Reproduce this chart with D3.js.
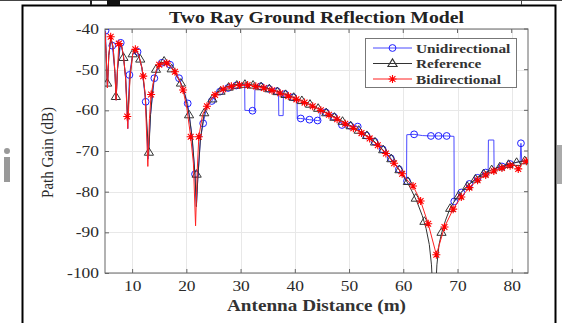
<!DOCTYPE html>
<html>
<head>
<meta charset="utf-8">
<script src="https://cdn.jsdelivr.net/npm/d3@7/dist/d3.min.js"></script>
<style>
  body { margin: 0; background: #fff; }
  svg { display: block; }
</style>
</head>
<body>
<script>
// ---- data ----
const xTicks = [10, 20, 30, 40, 50, 60, 70, 80];
const yTicks = [-100, -90, -80, -70, -60, -50, -40];
const seriesNames = ['Unidirectional', 'Reference', 'Bidirectional'];

// Reference: dense line + triangle markers
const refLine = [[5.0,-40.6],[5.2,-46],[5.45,-54.5],[5.7,-46.5],[6.1,-42.2],[6.5,-44.5],[6.85,-51],[7.05,-57.5],[7.3,-50],[7.7,-44.5],[8.0,-43.6],[8.4,-46.8],[8.8,-52],[9.2,-62],[9.6,-52],[10.1,-46.2],[10.6,-45],[11.2,-46.3],[11.8,-49.5],[12.4,-56],[13.05,-71],[13.4,-61],[13.9,-53.5],[14.5,-50],[15.2,-48.5],[16.0,-48],[16.8,-48.8],[17.5,-50],[18.2,-51.5],[19.0,-53.4],[19.8,-56.5],[20.5,-61],[21.1,-67],[21.6,-76],[21.85,-83.7],[22.1,-77],[22.6,-67],[23.3,-60.7],[24.0,-58.4],[24.8,-56.9],[25.7,-55.6],[26.5,-54.8],[27.5,-54.2],[28.5,-53.8],[29.5,-53.6],[30.5,-53.5],[31.5,-53.6],[32.5,-53.8],[33.5,-54.1],[34.5,-54.4],[35.5,-54.8],[36.5,-55.2],[37.5,-55.7],[38.5,-56.2],[39.5,-56.7],[40.5,-57.2],[41.5,-57.8],[42.5,-58.4],[43.5,-59],[44.5,-59.7],[45.5,-60.4],[46.5,-61.1],[47.5,-61.8],[48.5,-62.5],[49.5,-63.2],[50.5,-64],[51.5,-64.8],[52.5,-65.6],[53.5,-66.5],[54.5,-67.5],[55.5,-68.7],[56.5,-70.1],[57.5,-71.6],[58.5,-73.3],[59.5,-75.1],[60.5,-77.1],[61.5,-79.6],[62.5,-82.4],[63.5,-85.9],[64.2,-89],[64.8,-93],[65.2,-98],[65.5,-106],[65.9,-106],[66.2,-98],[66.6,-93],[67.1,-90],[67.8,-87],[68.6,-84.2],[69.5,-82.2],[70.5,-80.4],[71.5,-79],[72.5,-77.8],[73.5,-76.7],[74.5,-75.8],[75.5,-75.1],[76.5,-74.5],[77.5,-74],[78.5,-73.6],[79.5,-73.2],[80.5,-72.9],[81.5,-72.6],[82.5,-72.4],[83,-72.3]];
const refMarks = [[5.4,-53.3],[7.0,-56.6],[8.4,-47],[10.1,-46.1],[11.5,-47.4],[13.1,-70.3],[14.4,-49.9],[15.9,-47.9],[17.3,-49.8],[19.0,-53.3],[20.5,-61.1],[21.9,-75.7],[23.3,-60.6],[24.8,-57.2],[26.3,-55.3],[27.8,-54.3],[29.3,-53.8],[30.8,-53.6],[32.3,-53.8],[33.8,-54.2],[35.3,-54.7],[36.8,-55.4],[38.3,-56.1],[39.8,-56.8],[41.3,-57.6],[42.8,-58.5],[44.3,-59.5],[45.8,-60.6],[47.3,-61.7],[48.8,-62.7],[50.3,-63.8],[51.8,-64.9],[53.3,-66.2],[54.8,-67.8],[56.3,-69.7],[57.8,-71.9],[59.3,-74.6],[60.85,-77.5],[62.3,-81.6],[63.9,-87.3],[67.05,-90],[68.65,-84.1],[70.2,-81],[71.8,-78.7],[73.3,-76.9],[74.8,-75.6],[76.3,-74.6],[77.8,-73.9],[79.4,-73.3],[80.9,-72.8],[82.4,-72.4]];

// Bidirectional: dense line + asterisk markers
const biLine = [[5.0,-40.6],[5.2,-46],[5.45,-54.5],[5.7,-46.5],[6.05,-41.9],[6.5,-44.5],[6.85,-51],[7.05,-57.5],[7.3,-50],[7.55,-43.6],[8.0,-43.6],[8.4,-46.5],[8.8,-52],[9.1,-61.5],[9.2,-64.5],[9.6,-52],[10.1,-46.2],[10.6,-45],[11.2,-46.3],[11.8,-49.5],[12.05,-51.6],[12.4,-56],[12.9,-73.8],[13.2,-62],[13.5,-56.1],[14.0,-52.5],[14.5,-50],[15.0,-48.8],[16.0,-48.2],[16.4,-48.4],[17.2,-49.3],[17.9,-50.5],[18.6,-52.3],[19.4,-55],[20.1,-59.5],[20.8,-66.5],[21.3,-73],[21.7,-88.4],[22.0,-75],[22.3,-66.5],[23.0,-61],[23.8,-59],[24.5,-57.3],[25.3,-56.2],[26.8,-54.8],[28.3,-54.1],[29.8,-53.8],[31.3,-53.8],[32.8,-54.1],[34.3,-54.5],[35.8,-55.1],[37.3,-55.8],[38.8,-56.5],[40.3,-57.3],[41.8,-58.1],[43.3,-59],[44.8,-60],[46.3,-61.1],[47.8,-62.2],[49.3,-63.3],[50.8,-64.4],[52.3,-65.6],[53.8,-66.9],[55.3,-68.6],[56.8,-70.6],[58.3,-73],[59.8,-75.6],[61.0,-77.6],[61.8,-78.6],[63.2,-82.3],[64.6,-87.9],[66.1,-95.5],[67.6,-88.7],[69.2,-84.3],[70.7,-81.3],[72.2,-79],[73.7,-77.2],[75.2,-75.9],[76.7,-74.9],[78.2,-74.2],[79.7,-73.6],[80.5,-73.3],[81.2,-74.4],[82.0,-73],[82.7,-72.5],[83,-72.4]];
const biMarks = [[6.05,-41.9],[7.55,-43.6],[9.1,-61.5],[10.6,-45],[12.05,-51.6],[13.5,-56.1],[15.0,-48.8],[16.4,-48.4],[17.9,-50.5],[19.4,-55],[20.8,-66.5],[22.3,-66.5],[23.8,-59],[25.3,-56.2],[26.8,-54.8],[28.3,-54.1],[29.8,-53.8],[31.3,-53.8],[32.8,-54.1],[34.3,-54.5],[35.8,-55.1],[37.3,-55.8],[38.8,-56.5],[40.3,-57.3],[41.8,-58.1],[43.3,-59],[44.8,-60],[46.3,-61.1],[47.8,-62.2],[49.3,-63.3],[50.8,-64.4],[52.3,-65.6],[53.8,-66.9],[55.3,-68.6],[56.8,-70.6],[58.3,-73],[59.8,-75.6],[61.8,-78.6],[63.2,-82.3],[64.6,-87.9],[66.1,-95.5],[67.6,-88.7],[69.2,-84.3],[70.7,-81.3],[72.2,-79],[73.7,-77.2],[75.2,-75.9],[76.7,-74.9],[78.2,-74.2],[79.7,-73.6],[81.2,-74.4],[82.7,-72.5]];

// Unidirectional: dense line (with its plateaus) + circle markers
const uniLine = [[5.1,-40.4],[5.2,-46],[5.45,-54.5],[5.7,-46.5],[6.1,-42.2],[6.35,-44.1],[6.85,-51],[7.05,-57.5],[7.3,-50],[7.9,-43.4],[8.4,-46.5],[8.8,-52],[9.2,-64.5],[9.5,-51.3],[10.1,-46.2],[11.0,-45.6],[11.8,-49.5],[12.5,-57.9],[12.95,-72],[13.4,-61],[14.1,-52.1],[14.8,-49.5],[15.5,-48.3],[16.2,-48.2],[17.0,-48.8],[17.8,-50.5],[18.65,-52.1],[19.5,-55],[20.25,-58.3],[21.0,-66],[21.6,-75.7],[21.85,-83.5],[22.1,-77],[22.6,-67],[23.1,-63.2],[23.8,-59],[24.7,-57.7],[25.5,-55.9],[26.2,-55.4],[27.7,-54.5],[29.2,-53.9],[30.75,-53.6],[30.8,-60],[32.2,-60.1],[32.6,-60.2],[32.65,-53.8],[34.0,-54.2],[35.2,-54.7],[36.7,-55.3],[37.0,-55.4],[37.05,-61.3],[37.85,-61.3],[37.9,-55.9],[38.2,-56],[39.7,-56.8],[40.4,-57.2],[40.45,-62],[41.1,-62],[42.7,-62.3],[44.2,-62.5],[44.6,-62.6],[44.65,-59.9],[45.7,-60.5],[47.2,-61.6],[48.4,-62.5],[48.7,-63.6],[50.2,-63.8],[51.6,-64],[52.0,-65.3],[53.2,-66.2],[54.7,-67.7],[56.2,-69.6],[57.7,-71.8],[59.2,-74.5],[60.6,-77.4],[60.65,-66],[62.0,-65.9],[63.5,-66.2],[65.1,-66.3],[66.5,-66.3],[68.0,-66.3],[69.35,-66.4],[69.4,-82.4],[70.7,-80.2],[72.2,-78.1],[73.7,-76.6],[75.2,-75.3],[75.65,-75],[75.7,-67.3],[76.7,-67.3],[76.75,-74.5],[78.2,-73.8],[79.7,-73.2],[81.2,-72.7],[81.55,-72.6],[81.7,-68.1],[81.85,-72.6],[82.7,-72.4],[83,-72.3]];
const uniMarks = [[5.1,-40.4],[6.35,-44.1],[7.9,-43.4],[9.5,-51.3],[11.0,-45.6],[12.5,-57.9],[14.1,-52.1],[15.5,-48.3],[17.0,-48.8],[18.65,-52.1],[20.25,-58.3],[21.6,-75.7],[23.1,-63.2],[24.7,-57.7],[26.2,-55.4],[27.7,-54.5],[29.2,-53.9],[32.2,-60.1],[33.7,-54.1],[35.2,-54.7],[36.7,-55.3],[38.2,-56],[39.7,-56.8],[41.1,-62],[42.7,-62.3],[44.2,-62.5],[45.7,-60.5],[47.2,-61.6],[48.7,-63.6],[50.2,-63.8],[51.6,-64],[53.2,-66.2],[54.7,-67.7],[56.2,-69.6],[57.7,-71.8],[59.2,-74.5],[60.7,-77.4],[62.0,-65.9],[65.1,-66.3],[66.5,-66.3],[68.0,-66.3],[69.4,-82.4],[70.7,-80.2],[72.2,-78.1],[73.7,-76.6],[75.2,-75.3],[78.2,-73.8],[79.7,-73.2],[81.7,-68.1]];

// ---- layout ----
const W = 562, H = 323;
const margin = {top: 29, right: 34, bottom: 50, left: 105};
const serif = '"Liberation Serif", "Times New Roman", serif';
const stretchK = 1.2; // the source picture is a bit wider than tall

const svg = d3.select('body').append('svg').attr('width', W).attr('height', H);

const x = d3.scaleLinear().domain([5, 83]).range([margin.left, W - margin.right]);
const y = d3.scaleLinear().domain([-100, -40]).range([H - margin.bottom, margin.top]);

function stretch(sel, k) {
    sel.each(function() {
        const w = this.getComputedTextLength();
        d3.select(this).attr('textLength', w * k).attr('lengthAdjust', 'spacingAndGlyphs');
    });
}

// scan frame left over from the page this figure was cut from
const frame = svg.append('g');
frame.append('line').attr('x1', 0).attr('x2', W).attr('y1', 0.5).attr('y2', 0.5).attr('stroke', '#444').attr('stroke-width', 1);
frame.append('path').attr('d', 'M22.5,323 V5.5 H555.5 V323').attr('fill', 'none').attr('stroke', '#000').attr('stroke-width', 2);
frame.append('rect').attr('x', 107).attr('y', 0).attr('width', 13).attr('height', 5).attr('fill', '#111');
frame.append('rect').attr('x', 90).attr('y', 0).attr('width', 2).attr('height', 5).attr('fill', '#222');
frame.append('rect').attr('x', 521).attr('y', 0).attr('width', 1).attr('height', 5).attr('fill', '#444');
frame.append('circle').attr('cx', 7).attr('cy', 151).attr('r', 3).attr('fill', '#999');
frame.append('rect').attr('x', 4).attr('y', 157).attr('width', 6).attr('height', 25).attr('fill', '#999');
frame.append('rect').attr('x', 557).attr('y', 145).attr('width', 5).attr('height', 39).attr('fill', '#aaa');

// grid
const grid = svg.append('g').attr('stroke', '#e8e8e8').attr('stroke-width', 1);
grid.selectAll('.gx').data(xTicks).join('line')
    .attr('x1', d => Math.round(x(d)) + 0.5).attr('x2', d => Math.round(x(d)) + 0.5)
    .attr('y1', y(-100)).attr('y2', y(-40));
grid.selectAll('.gy').data(yTicks).join('line')
    .attr('y1', d => Math.round(y(d)) + 0.5).attr('y2', d => Math.round(y(d)) + 0.5)
    .attr('x1', x(5)).attr('x2', x(83));

// axes
const axisColor = '#666';
const gx = svg.append('g')
    .attr('transform', 'translate(0,' + y(-100) + ')')
    .call(d3.axisBottom(x).tickValues(xTicks).tickFormat(d => String(d)).tickSize(-4).tickPadding(8));
const gy = svg.append('g')
    .attr('transform', 'translate(' + x(5) + ',0)')
    .call(d3.axisLeft(y).tickValues(yTicks).tickFormat(d => String(d)).tickSize(-4).tickPadding(6));
[gx, gy].forEach(g => {
    g.select('.domain').remove();
    g.selectAll('line').attr('stroke', axisColor);
    g.selectAll('text').attr('font-family', serif).attr('font-size', 14.5).attr('fill', '#2a2a2a');
    stretch(g.selectAll('text'), stretchK);
});
// top/right ticks (box on)
svg.append('g').selectAll('line').data(xTicks).join('line')
    .attr('x1', d => x(d)).attr('x2', d => x(d)).attr('y1', y(-40)).attr('y2', y(-40) + 4)
    .attr('stroke', axisColor);
svg.append('g').selectAll('line').data(yTicks).join('line')
    .attr('x1', x(83)).attr('x2', x(83) - 4).attr('y1', d => y(d)).attr('y2', d => y(d))
    .attr('stroke', axisColor);
svg.append('rect')
    .attr('x', x(5)).attr('y', y(-40))
    .attr('width', x(83) - x(5)).attr('height', y(-100) - y(-40))
    .attr('fill', 'none').attr('stroke', axisColor).attr('stroke-width', 1);

// clip
svg.append('clipPath').attr('id', 'clip').append('rect')
    .attr('x', x(5)).attr('y', y(-40)).attr('width', x(83) - x(5)).attr('height', y(-100) - y(-40));

const line = d3.line().x(d => x(d[0])).y(d => y(d[1]));

const triPath = 'M0,-4.6L4.6,3L-4.6,3Z';
const starPath = 'M-4,0H4M0,-4V4M-2.9,-2.9L2.9,2.9M-2.9,2.9L2.9,-2.9';

const styles = {
    Unidirectional: {line: '#4a4aff', mark: '#1f1fff'},
    Reference: {line: '#333333', mark: '#333333'},
    Bidirectional: {line: '#ff2020', mark: '#ff0000'}
};

const plot = svg.append('g').attr('clip-path', 'url(#clip)');

// unidirectional
plot.append('path').datum(uniLine).attr('d', line)
    .attr('fill', 'none').attr('stroke', styles.Unidirectional.line).attr('stroke-width', 1);
plot.append('g').selectAll('circle').data(uniMarks).join('circle')
    .attr('cx', d => x(d[0])).attr('cy', d => y(d[1])).attr('r', 3.4)
    .attr('fill', 'none').attr('stroke', styles.Unidirectional.mark).attr('stroke-width', 1);

// reference
plot.append('path').datum(refLine).attr('d', line)
    .attr('fill', 'none').attr('stroke', styles.Reference.line).attr('stroke-width', 1);
plot.append('g').selectAll('path').data(refMarks).join('path')
    .attr('d', triPath)
    .attr('transform', d => 'translate(' + x(d[0]) + ',' + y(d[1]) + ')')
    .attr('fill', 'none').attr('stroke', styles.Reference.mark).attr('stroke-width', 1);

// bidirectional
plot.append('path').datum(biLine).attr('d', line)
    .attr('fill', 'none').attr('stroke', styles.Bidirectional.line).attr('stroke-width', 1);
plot.append('g').selectAll('path').data(biMarks).join('path')
    .attr('d', starPath)
    .attr('transform', d => 'translate(' + x(d[0]) + ',' + y(d[1]) + ')')
    .attr('fill', 'none').attr('stroke', styles.Bidirectional.mark).attr('stroke-width', 1.1);

// title and labels
svg.append('text')
    .attr('x', (x(5) + x(83)) / 2).attr('y', 22.5)
    .attr('text-anchor', 'middle')
    .attr('font-family', serif).attr('font-weight', 'bold').attr('font-size', 16.5)
    .attr('fill', '#222')
    .attr('textLength', 295).attr('lengthAdjust', 'spacingAndGlyphs')
    .text('Two Ray Ground Reflection Model');

svg.append('text')
    .attr('x', (x(5) + x(83)) / 2).attr('y', 311)
    .attr('text-anchor', 'middle')
    .attr('font-family', serif).attr('font-weight', 'bold').attr('font-size', 16)
    .attr('fill', '#333')
    .attr('textLength', 179).attr('lengthAdjust', 'spacingAndGlyphs')
    .text('Antenna Distance (m)');

svg.append('text')
    .attr('transform', 'translate(53,152.5) scale(1.15,1) rotate(-90)')
    .attr('text-anchor', 'middle')
    .attr('font-family', serif).attr('font-size', 15)
    .attr('fill', '#2a2a2a')
    .text('Path Gain (dB)');

// legend
const legend = svg.append('g');
legend.append('rect')
    .attr('x', 365.5).attr('y', 38.5).attr('width', 151).attr('height', 49)
    .attr('fill', '#fff').attr('stroke', '#777').attr('stroke-width', 1);
const rowY = [48, 63.5, 79];
seriesNames.forEach((name, i) => {
    const st = styles[name];
    const row = legend.append('g').attr('transform', 'translate(0,' + rowY[i] + ')');
    row.append('line').attr('x1', 373).attr('x2', 412).attr('y1', 0).attr('y2', 0)
        .attr('stroke', st.line).attr('stroke-width', 1);
    if (name === 'Unidirectional') {
        row.append('circle').attr('cx', 392.5).attr('cy', 0).attr('r', 3.4)
            .attr('fill', 'none').attr('stroke', st.mark);
    } else {
        row.append('path').attr('d', name === 'Reference' ? triPath : starPath)
            .attr('transform', 'translate(392.5,0)')
            .attr('fill', 'none').attr('stroke', st.mark).attr('stroke-width', 1.1);
    }
    const t = row.append('text').attr('x', 416).attr('y', 4.5)
        .attr('font-family', serif).attr('font-weight', 'bold').attr('font-size', 13)
        .attr('fill', '#333').text(name);
    stretch(t, 1.18);
});
</script>
</body>
</html>
